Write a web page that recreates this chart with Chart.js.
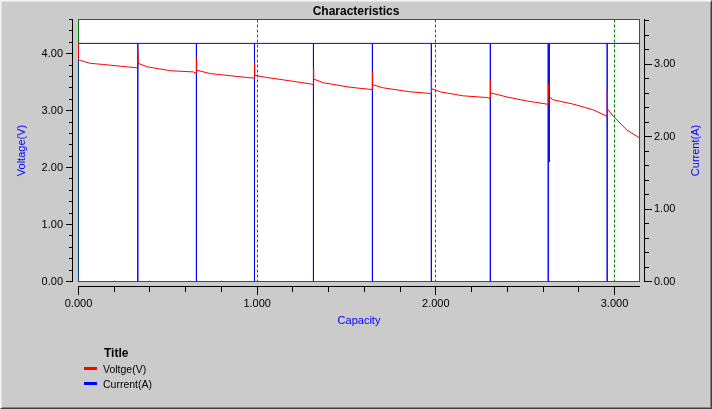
<!DOCTYPE html>
<html>
<head>
<meta charset="utf-8">
<title>Characteristics</title>
<script src="https://cdn.jsdelivr.net/npm/chart.js@4.4.1/dist/chart.umd.min.js"></script>
<style>
  html, body { margin: 0; padding: 0; background: #cbcbcb; }
  #wrap { position: relative; width: 712px; height: 409px; overflow: hidden;
          font-family: "Liberation Sans", Arial, sans-serif; }
  #frame { position: absolute; left: 0; top: 0; right: 0; bottom: 0; box-sizing: border-box;
           border-top: 1px solid #f4f4f4; border-left: 1px solid #f4f4f4;
           border-right: 1px solid #404040; border-bottom: 1px solid #404040;
           box-shadow: inset 1px 1px #e2e2e2, inset -1px -1px #878787; pointer-events: none; }
  .lg { position: absolute; color: #000; white-space: nowrap; }
  .lgTitle { left: 104px; top: 346px; font-weight: bold; font-size: 12px; line-height: 14px; }
  .lgItem { left: 103px; font-size: 10.5px; line-height: 13px; }
  .sw { position: absolute; left: 84px; width: 13px; height: 3px; }
</style>
</head>
<body>
<div id="wrap">
  <canvas id="chart" width="712" height="409"></canvas>
  <div class="lg lgTitle">Title</div>
  <span class="sw" style="top:367px; background:#ff0000"></span>
  <div class="lg lgItem" style="top:363px">Voltge(V)</div>
  <span class="sw" style="top:382px; background:#0000ff"></span>
  <div class="lg lgItem" style="top:378px">Current(A)</div>
  <div id="frame"></div>
</div>
<script>
// discharge curve, voltage vs capacity (rests show as vertical spikes)
const voltCap = [0, 0, 0.011, 0.067, 0.140, 0.235, 0.332, 0.332, 0.334, 0.384, 0.515, 0.643, 0.660, 0.660, 0.662,
  0.738, 0.888, 0.985, 0.985, 0.987, 1.046, 1.147, 1.298, 1.315, 1.315, 1.317, 1.370, 1.521, 1.645, 1.645, 1.647,
  1.706, 1.857, 1.975, 1.975, 1.977, 2.025, 2.153, 2.286, 2.305, 2.305, 2.307, 2.321, 2.398, 2.509, 2.631, 2.631,
  2.633, 2.657, 2.768, 2.880, 2.959, 2.959, 2.961, 2.994, 3.069, 3.140];
const voltage = [4.19, 3.89, 3.88, 3.83, 3.81, 3.78, 3.75, 4.06, 3.83, 3.77, 3.70, 3.68, 3.65, 3.93, 3.71,
  3.65, 3.60, 3.57, 3.84, 3.62, 3.585, 3.54, 3.47, 3.455, 3.74, 3.555, 3.49, 3.41, 3.37, 3.68, 3.455,
  3.40, 3.33, 3.30, 3.60, 3.385, 3.33, 3.26, 3.23, 3.215, 3.53, 3.31, 3.30, 3.24, 3.17, 3.11, 3.47,
  3.25, 3.19, 3.115, 3.015, 2.90, 3.345, 3.03, 2.90, 2.66, 2.52];

// current vs capacity
const ampCap = [0, 0, 0.332, 0.332, 0.332, 0.660, 0.660, 0.660, 0.985, 0.985, 0.985, 1.315, 1.315, 1.315,
  1.645, 1.645, 1.645, 1.975, 1.975, 1.975, 2.305, 2.305, 2.305, 2.629, 2.629, 2.629, 2.635, 2.635, 2.635,
  2.959, 2.959, 2.959, 3.140];
const current = [0, 3.29, 3.29, 0, 3.29, 3.29, 0, 3.29, 3.29, 0, 3.29, 3.29, 0, 3.29,
  3.29, 0, 3.29, 3.29, 0, 3.29, 3.29, 0, 3.29, 3.29, 0, 3.29, 3.29, 1.65, 3.29,
  3.29, 0, 3.29, 3.29];

const capTicks = [0, 0.2, 0.4, 0.6, 0.8, 1, 1.2, 1.4, 1.6, 1.8, 2, 2.2, 2.4, 2.6, 2.8, 3];
const capMajor = [0, 1, 2, 3];
const capLabels = ['0.000', '1.000', '2.000', '3.000'];
const voltTicks = [0, 0.2, 0.4, 0.6, 0.8, 1, 1.2, 1.4, 1.6, 1.8, 2, 2.2, 2.4, 2.6, 2.8, 3, 3.2, 3.4, 3.6, 3.8, 4, 4.2, 4.4, 4.6];
const voltMajor = [0, 1, 2, 3, 4];
const voltLabels = ['0.00', '1.00', '2.00', '3.00', '4.00'];
const ampTicks = [0, 0.2, 0.4, 0.6, 0.8, 1, 1.2, 1.4, 1.6, 1.8, 2, 2.2, 2.4, 2.6, 2.8, 3, 3.2, 3.4, 3.6];
const ampMajor = [0, 1, 2, 3];
const ampLabels = ['0.00', '1.00', '2.00', '3.00'];

const chartTitle = 'Characteristics';
const capTitle = 'Capacity';
const voltTitle = 'Voltage(V)';
const ampTitle = 'Current(A)';

function fixedTicks(vals, majors) {
  return scale => { scale.ticks = vals.map(v => ({ value: v, major: majors.includes(v) })); };
}
function tickLabel(majors, labels) {
  return v => { const i = majors.indexOf(v); return i < 0 ? '' : labels[i]; };
}
const majorTickColor = c => (c.tick && c.tick.major ? '#000' : 'rgba(0,0,0,0)');

// white plot area with green frame
const plotFrame = {
  id: 'plotFrame',
  beforeDraw(chart) {
    const { ctx, chartArea: a } = chart;
    ctx.save();
    ctx.fillStyle = '#fff';
    ctx.fillRect(a.left, a.top, a.right - a.left, a.bottom - a.top);
    ctx.restore();
  },
  beforeDatasetsDraw(chart) {
    const { ctx, chartArea: a } = chart;
    ctx.save();
    ctx.strokeStyle = '#008000';
    ctx.lineWidth = 1;
    ctx.strokeRect(a.left, a.top, a.right - a.left, a.bottom - a.top);
    ctx.restore();
  }
};

// short minor ticks + right axis title drawn bottom-to-top
const axisExtras = {
  id: 'axisExtras',
  afterDraw(chart) {
    const ctx = chart.ctx;
    ctx.save();
    ctx.strokeStyle = '#000';
    ctx.lineWidth = 1;
    ctx.beginPath();
    [['x', 5], ['y', 3], ['yR', 4]].forEach(([id, len]) => {
      const s = chart.scales[id];
      s.ticks.forEach(t => {
        if (t.major) return;
        const p = Math.round(s.getPixelForValue(t.value) - 0.5) + 0.5;
        if (id === 'x') { ctx.moveTo(p, s.top + 1); ctx.lineTo(p, s.top + len + 1); }
        else if (id === 'y') { ctx.moveTo(s.right, p); ctx.lineTo(s.right - len, p); }
        else { ctx.moveTo(s.left + 1, p); ctx.lineTo(s.left + len + 1, p); }
      });
    });
    ctx.stroke();

    const r = chart.scales.yR;
    ctx.translate(r.right - 16, (r.top + r.bottom) / 2);
    ctx.rotate(-Math.PI / 2);
    ctx.fillStyle = '#0000ff';
    ctx.font = '11px "Liberation Sans", Arial, sans-serif';
    ctx.textAlign = 'center';
    ctx.textBaseline = 'middle';
    ctx.fillText(ampTitle, 0, 0);
    ctx.restore();
  }
};

Chart.defaults.font.family = '"Liberation Sans", Arial, sans-serif';
Chart.defaults.font.size = 11;
Chart.defaults.color = '#000';

const gap = (pos, size) => ({
  type: 'linear', position: pos, weight: 0, display: true,
  grid: { display: false }, border: { display: false }, ticks: { display: false },
  afterFit: s => { if (pos === 'bottom') s.height = size; else s.width = size; }
});

new Chart(document.getElementById('chart'), {
  type: 'line',
  data: {
    datasets: [
      {
        label: 'Voltge(V)',
        data: voltCap.map((c, i) => ({ x: c, y: voltage[i] })),
        xAxisID: 'x', yAxisID: 'y',
        borderColor: '#ff0000', borderWidth: 1, pointRadius: 0, tension: 0, fill: false
      },
      {
        label: 'Current(A)',
        data: ampCap.map((c, i) => ({ x: c, y: current[i] })),
        xAxisID: 'x', yAxisID: 'yR',
        borderColor: '#0000ff', borderWidth: 1, pointRadius: 0, tension: 0, fill: false
      }
    ]
  },
  options: {
    responsive: false,
    animation: false,
    layout: { padding: 0 },
    plugins: {
      legend: { display: false },
      tooltip: { enabled: false },
      title: {
        display: true, text: chartTitle, color: '#000',
        font: { size: 12, weight: 'bold', lineHeight: '14px' },
        padding: { top: 5, bottom: 0.5 }
      }
    },
    scales: {
      x: {
        type: 'linear', position: 'bottom', weight: 1, min: 0, max: 3.14,
        afterBuildTicks: fixedTicks(capTicks, capMajor),
        afterFit: s => { s.height = 123; },
        ticks: { callback: tickLabel(capMajor, capLabels), autoSkip: false, maxRotation: 0, minRotation: 0, padding: 2 },
        grid: {
          drawOnChartArea: true, drawTicks: true, tickLength: 9, lineWidth: 1,
          color: c => (c.tick && c.tick.major && c.tick.value > 0 ? '#008000' : 'rgba(0,0,0,0)'),
          tickColor: majorTickColor, borderDash: [3, 2], tickBorderDash: []
        },
        border: { display: true, color: '#000', width: 1, dash: [3, 2] },
        title: { display: true, text: capTitle, color: '#0000ff', font: { size: 11 }, padding: { top: 0, bottom: 81.4 } }
      },
      xGap: gap('bottom', 4.5),
      y: {
        type: 'linear', position: 'left', weight: 1, min: 0, max: 4.6,
        afterBuildTicks: fixedTicks(voltTicks, voltMajor),
        afterFit: s => { s.width = 72; },
        ticks: { callback: tickLabel(voltMajor, voltLabels), autoSkip: false, padding: 3 },
        grid: { drawOnChartArea: false, drawTicks: true, tickLength: 6, tickColor: majorTickColor, tickBorderDash: [] },
        border: { display: true, color: '#000', width: 1 },
        title: { display: true, text: voltTitle, color: '#0000ff', font: { size: 11 }, padding: { top: 15.4, bottom: 0 } }
      },
      yGap: gap('left', 6.5),
      yR: {
        type: 'linear', position: 'right', weight: 1, min: 0, max: 3.62,
        afterBuildTicks: fixedTicks(ampTicks, ampMajor),
        afterFit: s => { s.width = 68; },
        ticks: { callback: tickLabel(ampMajor, ampLabels), autoSkip: false, padding: 2 },
        grid: { drawOnChartArea: false, drawTicks: true, tickLength: 8, tickColor: majorTickColor, tickBorderDash: [] },
        border: { display: true, color: '#000', width: 1 },
        title: { display: false }
      },
      yRGap: gap('right', 4.5)
    }
  },
  plugins: [plotFrame, axisExtras]
});
</script>
</body>
</html>
